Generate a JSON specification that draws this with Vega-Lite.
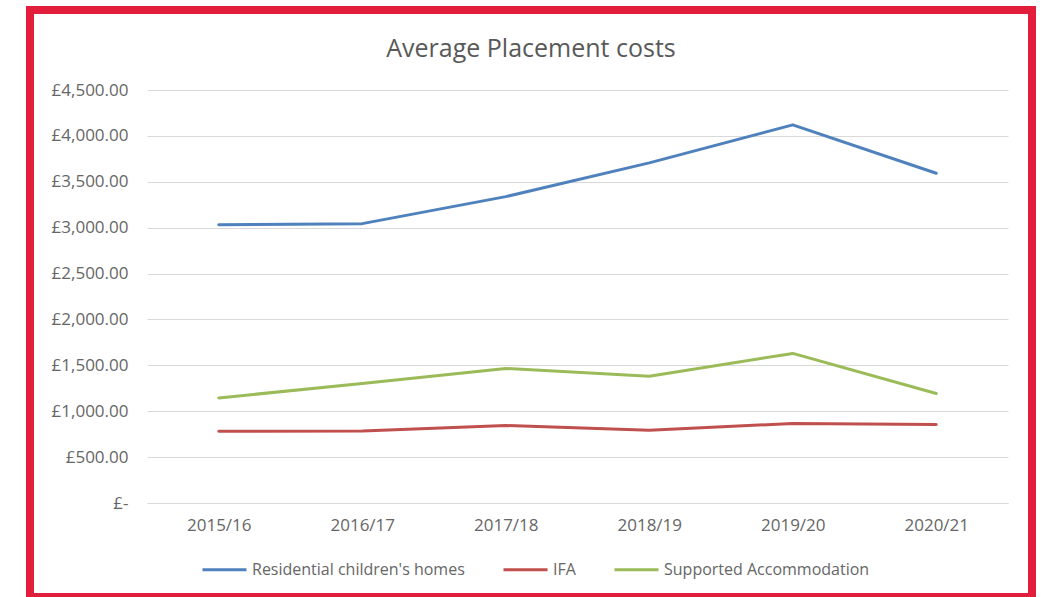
{
  "$schema": "https://vega.github.io/schema/vega-lite/v6.json",
  "width": 1002,
  "height": 587,
  "autosize": {"type": "none"},
  "padding": {"left": 30, "top": 10, "right": 11, "bottom": 0},
  "background": "white",
  "config": {
    "view": {"stroke": "#E31D3C", "strokeWidth": 8, "fill": "white"},
    "font": "Open Sans"
  },
  "title": {
    "text": "Average Placement costs",
    "fontSize": 25,
    "fontWeight": "normal",
    "color": "#595959",
    "anchor": "middle",
    "baseline": "alphabetic",
    "offset": -72
  },
  "data": {
    "values": [
      {"year": "2015/16", "series": "Residential children's homes", "cost": 3033},
      {"year": "2016/17", "series": "Residential children's homes", "cost": 3044},
      {"year": "2017/18", "series": "Residential children's homes", "cost": 3338},
      {"year": "2018/19", "series": "Residential children's homes", "cost": 3706},
      {"year": "2019/20", "series": "Residential children's homes", "cost": 4120},
      {"year": "2020/21", "series": "Residential children's homes", "cost": 3593},
      {"year": "2015/16", "series": "IFA", "cost": 782},
      {"year": "2016/17", "series": "IFA", "cost": 784},
      {"year": "2017/18", "series": "IFA", "cost": 844},
      {"year": "2018/19", "series": "IFA", "cost": 793},
      {"year": "2019/20", "series": "IFA", "cost": 866},
      {"year": "2020/21", "series": "IFA", "cost": 855},
      {"year": "2015/16", "series": "Supported Accommodation", "cost": 1145},
      {"year": "2016/17", "series": "Supported Accommodation", "cost": 1302},
      {"year": "2017/18", "series": "Supported Accommodation", "cost": 1466},
      {"year": "2018/19", "series": "Supported Accommodation", "cost": 1382},
      {"year": "2019/20", "series": "Supported Accommodation", "cost": 1630},
      {"year": "2020/21", "series": "Supported Accommodation", "cost": 1193}
    ]
  },
  "mark": {"type": "line", "strokeWidth": 3, "strokeCap": "round", "strokeJoin": "round"},
  "encoding": {
    "x": {
      "field": "year",
      "type": "ordinal",
      "sort": null,
      "scale": {"type": "point", "range": [117, 978], "padding": 0.5},
      "axis": {
        "title": null,
        "orient": "bottom",
        "offset": -94,
        "domain": true,
        "domainColor": "#D9D9D9",
        "domainWidth": 1,
        "ticks": false,
        "grid": false,
        "labelAngle": 0,
        "labelPadding": 14,
        "labelFontSize": 17,
        "labelColor": "#666666"
      }
    },
    "y": {
      "field": "cost",
      "type": "quantitative",
      "scale": {"domain": [0, 4500], "range": [493, 80], "nice": false, "zero": true},
      "axis": {
        "title": null,
        "orient": "left",
        "offset": -115,
        "values": [0, 500, 1000, 1500, 2000, 2500, 3000, 3500, 4000, 4500],
        "domain": false,
        "ticks": false,
        "grid": true,
        "gridColor": "#D9D9D9",
        "gridWidth": 1,
        "labelPadding": 17,
        "labelFontSize": 17,
        "labelColor": "#666666",
        "labelExpr": "datum.value == 0 ? '£-' : '£' + format(datum.value, ',.2f')",
        "encode": {"labels": {"update": {"dx": {"signal": "datum.value == 0 ? -10 : 0"}}}}
      }
    },
    "color": {
      "field": "series",
      "type": "nominal",
      "sort": ["Residential children's homes", "IFA", "Supported Accommodation"],
      "scale": {
        "domain": ["Residential children's homes", "IFA", "Supported Accommodation"],
        "range": ["#4F81BD", "#C0504D", "#9BBB59"]
      },
      "legend": {
        "title": null,
        "orient": "none",
        "direction": "horizontal",
        "legendX": 171,
        "legendY": 536,
        "padding": 0,
        "symbolType": "stroke",
        "symbolSize": 1936,
        "symbolStrokeWidth": 3,
        "labelOffset": 4,
        "labelFontSize": 16,
        "labelLimit": 0,
        "labelColor": "#666666",
        "columnPadding": 32
      }
    }
  }
}
